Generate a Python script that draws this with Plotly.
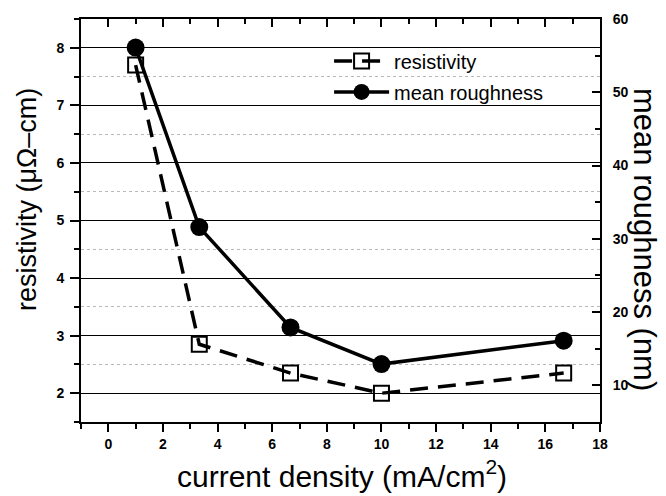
import plotly.graph_objects as go

# Data
current_density = [1.0, 3.33, 6.67, 10.0, 16.67]
resistivity = [7.70, 2.85, 2.35, 2.00, 2.35]
mean_roughness = [56.1, 31.6, 17.9, 12.9, 16.1]

x_ticks = [0, 2, 4, 6, 8, 10, 12, 14, 16, 18]
left_ticks = [2, 3, 4, 5, 6, 7, 8]
right_ticks = [10, 20, 30, 40, 50, 60]

FONT = "Liberation Sans"

fig = go.Figure()

fig.add_trace(go.Scatter(
    x=current_density, y=resistivity, name="resistivity",
    mode="lines+markers",
    line=dict(color="black", width=3.5, dash="18px,10px"),
    marker=dict(symbol="square-open", size=15, color="black", line=dict(width=2, color="black")),
    legend="legend",
))
fig.add_trace(go.Scatter(
    x=current_density, y=mean_roughness, name="mean roughness",
    mode="lines+markers",
    line=dict(color="black", width=3.5),
    marker=dict(symbol="circle", size=18, color="black"),
    yaxis="y2", legend="legend2",
))
# invisible trace to activate the top x axis
fig.add_trace(go.Scatter(x=[None], y=[None], xaxis="x2", showlegend=False))

tickfont = dict(family=FONT, size=14, color="black", weight="bold")

fig.update_layout(
    width=666, height=496,
    margin=dict(l=81, r=66, t=19, b=74),
    paper_bgcolor="white", plot_bgcolor="white",
    font=dict(family=FONT, color="black"),
    xaxis=dict(
        range=[-1, 18], tickvals=x_ticks, ticks="outside", ticklen=8, tickwidth=2,
        tickcolor="black", showline=True, linewidth=2, linecolor="black",
        showgrid=False, zeroline=False, tickfont=tickfont,
        minor=dict(dtick=1, tick0=0, ticks="outside", ticklen=5, tickwidth=1.5, tickcolor="black"),
    ),
    xaxis2=dict(
        matches="x", overlaying="x", side="top", anchor="y",
        range=[-1, 18], tickvals=x_ticks, ticks="inside", ticklen=8, tickwidth=2,
        tickcolor="black", showline=True, linewidth=2, linecolor="black",
        showgrid=False, zeroline=False, showticklabels=False,
        minor=dict(dtick=1, tick0=0, ticks="inside", ticklen=5, tickwidth=1.5, tickcolor="black"),
    ),
    yaxis=dict(
        range=[1.5, 8.5], tickvals=left_ticks, ticks="outside", ticklen=9, tickwidth=2,
        tickcolor="black", showline=True, linewidth=2, linecolor="black",
        showgrid=True, gridcolor="black", gridwidth=1, zeroline=False,
        tickfont=tickfont, ticklabelstandoff=3,
        minor=dict(dtick=0.5, tick0=0, ticks="outside", ticklen=5, tickwidth=1.5, tickcolor="black",
                   showgrid=True, gridcolor="#b8b8b8", gridwidth=1, griddash="dot"),
    ),
    yaxis2=dict(
        range=[5, 60], tickvals=right_ticks, overlaying="y", side="right",
        ticks="inside", ticklen=8, tickwidth=2, tickcolor="black",
        showline=True, linewidth=2, linecolor="black", showgrid=False, zeroline=False,
        tickfont=tickfont, ticklabelstandoff=8,
        minor=dict(dtick=5, tick0=0, ticks="inside", ticklen=5, tickwidth=1.5, tickcolor="black"),
    ),
    legend=dict(x=0.478, y=0.896, xanchor="left", yanchor="middle", bgcolor="rgba(0,0,0,0)",
                font=dict(family=FONT, size=20, color="black"), itemwidth=55),
    legend2=dict(x=0.478, y=0.819, xanchor="left", yanchor="middle", bgcolor="rgba(0,0,0,0)",
                 font=dict(family=FONT, size=20, color="black"), itemwidth=55),
    annotations=[
        dict(text="resistivity (\u03bc\u03a9\u2013cm)", xref="paper", yref="paper",
             x=-0.104, y=0.551, textangle=-90, showarrow=False,
             xanchor="center", yanchor="middle", font=dict(family=FONT, size=27, color="black")),
        dict(text="mean roughness (nm)", xref="paper", yref="paper",
             x=1.0867, y=0.4516, textangle=90, showarrow=False,
             xanchor="center", yanchor="middle", font=dict(family=FONT, size=31, color="black")),
        dict(text="current density (mA/cm<sup>2</sup>)", xref="paper", yref="paper",
             x=0.503, y=-0.181, showarrow=False,
             xanchor="center", yanchor="bottom", font=dict(family=FONT, size=30, color="black")),
    ],
)

fig.write_html("out.html")
